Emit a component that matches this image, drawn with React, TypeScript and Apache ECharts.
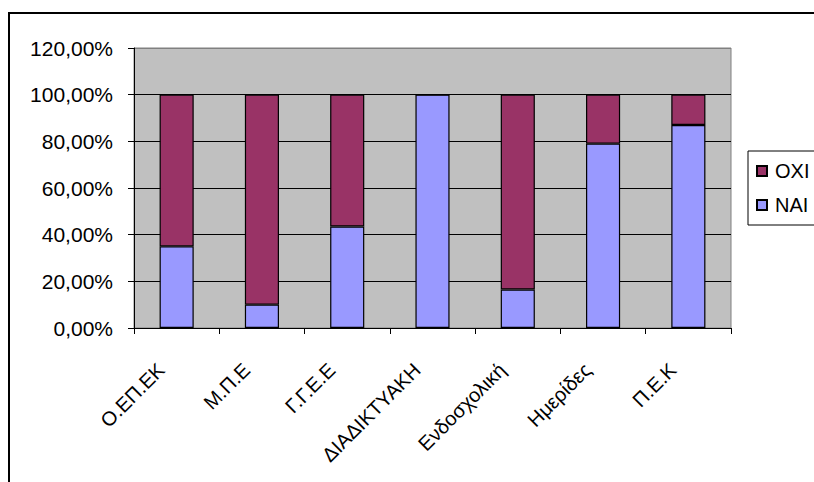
import React, { useEffect, useRef } from "react";
import * as echarts from "echarts";

// Categories along the x axis
const categories = [
  "Ο.ΕΠ.ΕΚ",
  "Μ.Π.Ε",
  "Γ.Γ.Ε.Ε",
  "ΔΙΑΔΙΚΤΥΑΚΗ",
  "Ενδοσχολική",
  "Ημερίδες",
  "Π.Ε.Κ",
];

// Share of answers per category (percent)
const naiValues = [35, 10, 43.5, 100, 16.5, 79, 87];
const oxiValues = [65, 90, 56.5, 0, 83.5, 21, 13];

const yTicks = { min: 0, max: 120, interval: 20 };

const FONT = "'Liberation Sans', Arial, sans-serif";

function formatPercent(v: number): string {
  return v.toFixed(2).replace(".", ",") + "%";
}

export default function App() {
  const ref = useRef<HTMLDivElement>(null);

  useEffect(() => {
    if (!ref.current) return;
    const chart = echarts.init(ref.current, null, { renderer: "svg" });

    const gridLineColors = [
      "#000000",
      "#000000",
      "#000000",
      "#000000",
      "#000000",
      "#000000",
      "#808080",
    ];

    chart.setOption({
      animation: false,
      backgroundColor: "#ffffff",
      textStyle: { fontFamily: FONT },
      grid: {
        left: 134,
        top: 48,
        right: 83,
        bottom: 154,
        show: true,
        backgroundColor: "#C0C0C0",
        borderColor: "#808080",
        borderWidth: 1,
        containLabel: false,
      },
      legend: {
        orient: "vertical",
        left: 748,
        top: 151,
        data: ["ΟΧΙ", "ΝΑΙ"],
        icon: "rect",
        itemWidth: 10,
        itemHeight: 10,
        itemGap: 14,
        padding: [10, 14, 10, 8],
        borderColor: "#000000",
        borderWidth: 1,
        textStyle: { fontFamily: FONT, fontSize: 20, color: "#000", padding: [0, 0, 0, 3] },
      },
      xAxis: {
        type: "category",
        data: categories,
        boundaryGap: true,
        axisLine: { lineStyle: { color: "#000", width: 1 } },
        axisTick: { show: true, length: 6, lineStyle: { color: "#000" } },
        axisLabel: {
          rotate: 45,
          interval: 0,
          margin: 23,
          padding: [0, 22, 0, 0],
          color: "#000",
          fontFamily: FONT,
          fontSize: 20,
        },
      },
      yAxis: {
        type: "value",
        min: yTicks.min,
        max: yTicks.max,
        interval: yTicks.interval,
        axisLine: { show: true, lineStyle: { color: "#000", width: 1 } },
        axisTick: { show: true, length: 6, lineStyle: { color: "#000" } },
        axisLabel: {
          margin: 21,
          color: "#000",
          fontFamily: FONT,
          fontSize: 21,
          formatter: (v: number) => formatPercent(v),
        },
        splitLine: {
          show: true,
          lineStyle: { color: gridLineColors, width: 1 },
        },
      },
      series: [
        {
          name: "ΝΑΙ",
          type: "bar",
          stack: "total",
          data: naiValues,
          barWidth: "40%",
          itemStyle: { color: "#9999FF", borderColor: "#000", borderWidth: 1.2 },
        },
        {
          name: "ΟΧΙ",
          type: "bar",
          stack: "total",
          data: oxiValues,
          barWidth: "40%",
          itemStyle: { color: "#993366", borderColor: "#000", borderWidth: 1.2 },
        },
      ],
      graphic: [
        {
          type: "rect",
          silent: true,
          z: 100,
          shape: { x: 9, y: 13, width: 812, height: 480 },
          style: { fill: "none", stroke: "#000", lineWidth: 2 },
        },
      ],
    });

    return () => chart.dispose();
  }, []);

  return (
    <div
      ref={ref}
      style={{ position: "absolute", left: 0, top: 0, width: 814, height: 482 }}
    />
  );
}
